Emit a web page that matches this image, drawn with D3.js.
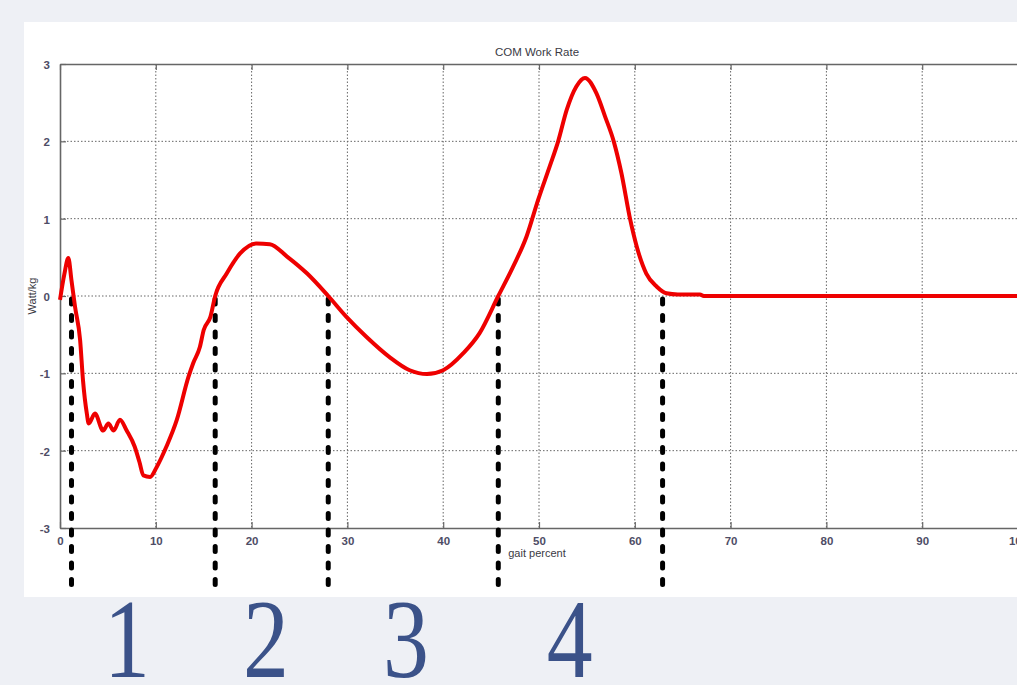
<!DOCTYPE html>
<html>
<head>
<meta charset="utf-8">
<script src="https://cdn.jsdelivr.net/npm/d3@7"></script>
<style>
  html, body { margin: 0; padding: 0; background: #eef0f5; overflow: hidden; }
  svg { display: block; }
</style>
</head>
<body>
<div id="chart"></div>
<script>
// gait percent vs COM work rate (W/kg)
const gaitPercent = [0, 0.45, 0.87, 1.2, 1.57, 2.1, 2.4, 2.8, 3.0, 3.65, 4.5, 5.05, 5.6, 6.26, 6.96,
  7.8, 8.3, 8.7, 9.4, 10.1, 11.1, 12.2, 13.4, 13.9, 14.6, 15.0, 15.7, 16.2, 17.4, 18.8, 20.5,
  21.9, 23.7, 25.8, 28.0, 29.9, 32.0, 34.4, 36.5, 38.3, 40.0, 42.1, 43.8, 45.75, 47.3, 48.7,
  49.9, 51.1, 52.0, 52.9, 53.9, 54.8, 56.0, 56.9, 57.8, 58.6, 59.5, 60.2, 61.2, 62.3, 63.3,
  64.5, 66.8, 67.2, 80, 90, 100];
const workRate = [-0.05, 0.28, 0.49, 0.2, -0.14, -0.57, -1.09, -1.52, -1.65, -1.52, -1.74, -1.65, -1.74, -1.6, -1.74,
  -1.95, -2.15, -2.32, -2.34, -2.21, -1.95, -1.6, -1.05, -0.87, -0.66, -0.44, -0.27, 0, 0.29, 0.55, 0.68,
  0.67, 0.51, 0.29, 0, -0.27, -0.53, -0.79, -0.96, -1.01, -0.96, -0.74, -0.48, 0, 0.38, 0.77,
  1.24, 1.67, 2.0, 2.41, 2.71, 2.82, 2.62, 2.32, 2.0, 1.59, 1.0, 0.64, 0.29, 0.12, 0.035,
  0.02, 0.02, 0, 0, 0, 0];

// phase boundaries (zero crossings) and phase numbers
const phaseBounds = [1.2, 16.2, 28.0, 45.75, 62.9];
const phaseLabels = ['1', '2', '3', '4'];
const phaseLabelAt = [7.0, 21.5, 36.1, 53.2];

const xTicks = [0, 10, 20, 30, 40, 50, 60, 70, 80, 90, 100];
const yTicks = [-3, -2, -1, 0, 1, 2, 3];

const width = 1017, height = 685;
const margin = { top: 64, right: -1, bottom: 157, left: 60 };

const svg = d3.select('#chart').append('svg')
  .attr('width', width)
  .attr('height', height);

// white panel
svg.append('rect')
  .attr('x', 24).attr('y', 22)
  .attr('width', width - 24).attr('height', 575)
  .attr('fill', '#fff');

const x = d3.scaleLinear().domain([0, 100]).range([margin.left, width - margin.right]);
const y = d3.scaleLinear().domain([-3, 3]).range([height - margin.bottom, margin.top]);

// grid
const grid = svg.append('g')
  .attr('stroke', '#666')
  .attr('stroke-width', 1)
  .attr('stroke-dasharray', '1.5,2');
grid.selectAll('.gx').data(xTicks.slice(1, -1)).enter().append('line')
  .attr('x1', d => x(d)).attr('x2', d => x(d))
  .attr('y1', y(3)).attr('y2', y(-3));
grid.selectAll('.gy').data(yTicks.slice(1, -1)).enter().append('line')
  .attr('x1', x(0)).attr('x2', x(100))
  .attr('y1', d => y(d)).attr('y2', d => y(d));

// axes (ticks pointing inward, MATLAB style)
const axisColor = '#666';
const bottomAxis = svg.append('g')
  .attr('transform', `translate(0,${y(-3)})`)
  .call(d3.axisBottom(x).tickValues(xTicks).tickSize(-6).tickPadding(9).tickSizeOuter(0));
const topAxis = svg.append('g')
  .attr('transform', `translate(0,${y(3)})`)
  .call(d3.axisTop(x).tickValues(xTicks).tickSize(-6).tickFormat('').tickSizeOuter(0));
const leftAxis = svg.append('g')
  .attr('transform', `translate(${x(0)},0)`)
  .call(d3.axisLeft(y).tickValues(yTicks).tickFormat(d => String(d)).tickSize(-6).tickPadding(10).tickSizeOuter(0));

[bottomAxis, topAxis, leftAxis].forEach(a => {
  a.select('.domain').attr('stroke', axisColor).attr('stroke-width', 1.6);
  a.selectAll('.tick line').attr('stroke', axisColor).attr('stroke-width', 1.2);
  a.selectAll('.tick text')
    .attr('fill', '#4e4d66')
    .style('font-family', 'Arial, "Liberation Sans", sans-serif')
    .style('font-size', '11.5px')
    .style('font-weight', '600');
});
leftAxis.selectAll('.tick text').attr('dy', '0.4em');

// title and axis labels
const labelFont = 'Arial, "Liberation Sans", sans-serif';
svg.append('text')
  .attr('x', 537).attr('y', 56)
  .attr('text-anchor', 'middle')
  .style('font-family', labelFont).style('font-size', '11.5px')
  .attr('fill', '#3a3a44')
  .text('COM Work Rate');
svg.append('text')
  .attr('x', 537).attr('y', 557)
  .attr('text-anchor', 'middle')
  .style('font-family', labelFont).style('font-size', '11px')
  .attr('fill', '#3a3a44')
  .text('gait percent');
svg.append('text')
  .attr('transform', `translate(36,${y(0)}) rotate(-90)`)
  .attr('text-anchor', 'middle')
  .style('font-family', labelFont).style('font-size', '11px')
  .attr('fill', '#3a3a44')
  .text('Watt/kg');

// phase boundary markers
svg.selectAll('.bound').data(phaseBounds).enter().append('line')
  .attr('class', 'bound')
  .attr('x1', d => x(d)).attr('x2', d => x(d))
  .attr('y1', y(0) + 3).attr('y2', 592)
  .attr('stroke', '#000')
  .attr('stroke-width', 5)
  .attr('stroke-linecap', 'round')
  .attr('stroke-dasharray', '5,11.5');

// work-rate curve
const line = d3.line()
  .x((d, i) => x(gaitPercent[i]))
  .y(d => y(d))
  .curve(d3.curveMonotoneX);

svg.append('path')
  .datum(workRate)
  .attr('fill', 'none')
  .attr('stroke', '#ee0000')
  .attr('stroke-width', 4)
  .attr('stroke-linejoin', 'round')
  .attr('d', line);

// phase numbers
svg.selectAll('.phase').data(phaseLabels).enter().append('text')
  .attr('class', 'phase')
  .attr('transform', (d, i) => `translate(${x(phaseLabelAt[i])},677) scale(0.82,1)`)
  .attr('text-anchor', 'middle')
  .style('font-family', '"Liberation Serif", "Times New Roman", serif')
  .style('font-size', '112px')
  .attr('fill', '#3b5289')
  .text(d => d);
</script>
</body>
</html>
